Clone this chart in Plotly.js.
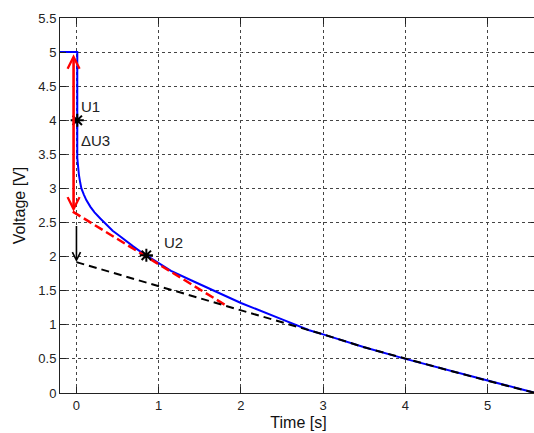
<!DOCTYPE html>
<html>
<head>
<meta charset="utf-8">
<script src="https://cdn.plot.ly/plotly-3.0.1.min.js"></script>
<style>
  html, body { margin: 0; padding: 0; overflow: hidden; background: #fff; }
  #chart { width: 537px; height: 433px; }
</style>
</head>
<body>
<div id="chart"></div>
<script>
// Measured discharge curve (blue)
const blueTime = [-0.2, 0.01, 0.01, 0.02, 0.03, 0.045, 0.06, 0.09, 0.12, 0.17, 0.22, 0.29, 0.36, 0.44, 0.53, 0.61, 0.69, 0.77, 0.85, 1.0, 1.15, 1.4, 1.7, 2.0, 2.5, 2.83, 3.0, 3.5, 4.0, 4.5, 5.0, 5.3, 5.58];
const blueVolt = [5.0, 5.0, 3.45, 3.3, 3.2, 3.09, 3.0, 2.91, 2.83, 2.73, 2.65, 2.56, 2.47, 2.38, 2.3, 2.22, 2.15, 2.08, 2.02, 1.9, 1.79, 1.65, 1.48, 1.32, 1.08, 0.92, 0.86, 0.67, 0.5, 0.34, 0.18, 0.09, 0.0];

// Tangent at U2 (red dashed)
const redTime = [-0.045, 1.81];
const redVolt = [2.66, 1.29];

// Extrapolated linear part (black dashed)
const blackTime = [0.0, 2.8, 3.0, 3.5, 4.0, 4.5, 5.0, 5.3, 5.58];
const blackVolt = [1.92, 0.93, 0.86, 0.67, 0.5, 0.34, 0.18, 0.09, 0.0];

// Marked points
const markTime = [0.01, 0.85];
const markVolt = [4.0, 2.02];

// Labels
const labelText = ["U1", "\u0394U3", "U2"];
const labelTime = [0.03, 0.03, 1.04];
const labelVolt = [4.2, 3.71, 2.21];

// Arrows
const redArrowTime = -0.035, redArrowTop = 4.99, redArrowBottom = 2.66;
const blackArrowTime = 0.0, blackArrowFrom = 2.47, blackArrowTo = 1.92;

// Ticks
const xTicks = [0, 1, 2, 3, 4, 5];
const yTicks = [0, 0.5, 1, 1.5, 2, 2.5, 3, 3.5, 4, 4.5, 5, 5.5];
const yTickText = ["0", "0.5", "1", "1.5", "2", "2.5", "3", "3.5", "4", "4.5", "5", "5.5"];

const FONT = "Liberation Sans, Arial, sans-serif";

const traces = [
  { x: blueTime, y: blueVolt, mode: "lines", line: { color: "#0000ff", width: 2 }, hoverinfo: "skip" },
  { x: redTime, y: redVolt, mode: "lines", line: { color: "#ff0000", width: 2.5, dash: "9px,4px" }, hoverinfo: "skip" },
  { x: blackTime, y: blackVolt, mode: "lines", line: { color: "#000000", width: 2, dash: "8px,5px" }, hoverinfo: "skip" },
  { x: markTime, y: markVolt, mode: "markers", marker: { symbol: "asterisk-open", size: 11, color: "#000", line: { color: "#000", width: 2 } }, hoverinfo: "skip" }
];

const annotations = labelText.map((t, i) => ({
  x: labelTime[i], y: labelVolt[i], xref: "x", yref: "y", text: t, showarrow: false,
  xanchor: "left", yanchor: "middle", font: { family: FONT, size: 15, color: "#222" }
}));

annotations.push({
  x: redArrowTime, y: redArrowBottom, ax: redArrowTime, ay: redArrowTop,
  xref: "x", yref: "y", axref: "x", ayref: "y", text: "", showarrow: true,
  arrowside: "end+start", arrowhead: 5, startarrowhead: 5, arrowsize: 0.9, startarrowsize: 0.9,
  arrowwidth: 2.6, arrowcolor: "#ff0000", standoff: 0, startstandoff: 0
});
annotations.push({
  x: blackArrowTime, y: blackArrowTo, ax: blackArrowTime, ay: blackArrowFrom,
  xref: "x", yref: "y", axref: "x", ayref: "y", text: "", showarrow: true,
  arrowhead: 5, arrowsize: 1.0, arrowwidth: 1.6, arrowcolor: "#000000", standoff: 0
});

const axisCommon = {
  showline: true, linecolor: "#222", linewidth: 1, mirror: "ticks",
  ticks: "inside", ticklen: 6, tickcolor: "#222", tickwidth: 1,
  showgrid: true, gridcolor: "#444", gridwidth: 1, griddash: "dot",
  zeroline: false, tickfont: { family: FONT, size: 13, color: "#222" }
};

const layout = {
  width: 537, height: 433,
  margin: { l: 60, r: 0, t: 18, b: 40 },
  paper_bgcolor: "#fff", plot_bgcolor: "#fff",
  showlegend: false,
  xaxis: Object.assign({}, axisCommon, {
    range: [-0.2, 5.6], tickmode: "array", tickvals: xTicks,
    title: { text: "Time [s]", font: { family: FONT, size: 16, color: "#111" }, standoff: 5 }
  }),
  yaxis: Object.assign({}, axisCommon, {
    range: [0, 5.5], tickmode: "array", tickvals: yTicks, ticktext: yTickText,
    title: { text: "Voltage [V]", font: { family: FONT, size: 16, color: "#111" }, standoff: 8 }
  }),
  annotations: annotations
};

Plotly.newPlot("chart", traces, layout, { staticPlot: true, displayModeBar: false });
</script>
</body>
</html>
